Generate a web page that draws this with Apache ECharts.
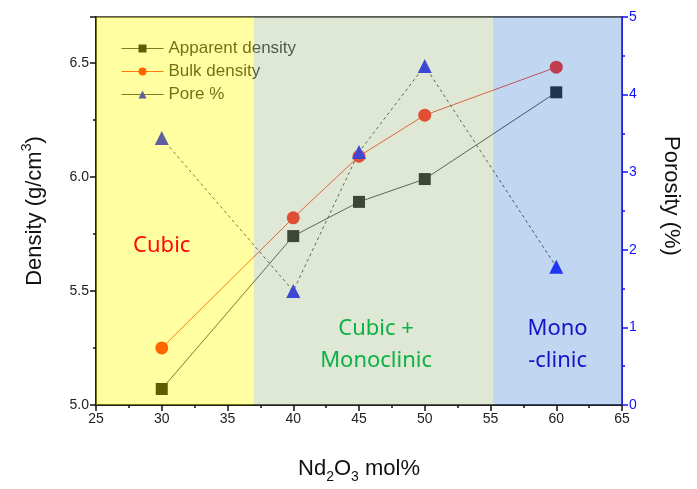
<!DOCTYPE html>
<html><head><meta charset="utf-8">
<script src="https://cdn.jsdelivr.net/npm/echarts@6/dist/echarts.min.js"></script>
<style>html,body{margin:0;padding:0;background:#fff}#c{width:697px;height:489px}</style>
</head><body><div id="c"></div>
<script>
const xValues = [30, 40, 45, 50, 60];
const apparentDensity = [5.07, 5.74, 5.89, 5.99, 6.37];
const bulkDensity = [5.25, 5.82, 6.09, 6.27, 6.48];
const porePercent = [3.44, 1.47, 3.26, 4.37, 1.78];
const phaseBounds = [25, 37, 55.2, 65];
const phaseNames = ['Cubic', 'Cubic +\nMonoclinic', 'Mono\n-clinic'];
const seriesNames = ['Apparent density', 'Bulk density', 'Pore %'];

const pair = (ys) => xValues.map((x, i) => [x, ys[i]]);
const overlayColors = ['rgba(255,255,0,0.37)', 'rgba(165,192,138,0.37)', 'rgba(84,144,217,0.37)'];
const phaseData = phaseBounds.slice(0, -1).map((b, i) => [b, phaseBounds[i + 1], i]);
const annoColors = ['#ff0a0a', '#10b048', '#1414c8'];
const annoPos = [[30, 5.70], [46.3, 5.265], [60.1, 5.265]];

const chart = echarts.init(document.getElementById('c'));
const tickFont = { fontFamily: 'Liberation Sans, Arial', fontSize: 14 };
chart.setOption({
  animation: false,
  grid: { left: 96, right: 75, top: 17, bottom: 84, show: true, borderColor: '#222', borderWidth: 1.5, backgroundColor: 'transparent' },
  legend: {
    data: seriesNames, orient: 'vertical', left: 116, top: 35, itemWidth: 42, itemHeight: 10, itemGap: 6,
    lineStyle: { width: 1, type: 'solid' },
    textStyle: { fontFamily: 'Liberation Sans, Arial', fontSize: 17, color: '#222' }, z: 4
  },
  xAxis: {
    type: 'value', min: 25, max: 65, interval: 5,
    axisLine: { lineStyle: { color: '#111', width: 1.5 } },
    axisTick: { inside: false, length: 6, lineStyle: { color: '#111', width: 1.5 } },
    minorTick: { show: true, splitNumber: 2, length: 3, lineStyle: { color: '#111', width: 1.5 } },
    splitLine: { show: false },
    axisLabel: Object.assign({ color: '#222', margin: 7 }, tickFont),
    name: '{n|Nd}{s|2}{n|O}{s|3}{n| mol%}', nameLocation: 'middle', nameGap: 49,
    nameTextStyle: { rich: {
      n: { fontFamily: 'Liberation Sans, Arial', fontSize: 22, color: '#111', lineHeight: 30, verticalAlign: 'middle' },
      s: { fontFamily: 'Liberation Sans, Arial', fontSize: 14, color: '#111', lineHeight: 12, verticalAlign: 'bottom' }
    } }
  },
  yAxis: [{
    type: 'value', min: 5.0, max: 6.7, interval: 0.5, position: 'left',
    axisLine: { show: true, lineStyle: { color: '#111', width: 1.5 } },
    axisTick: { show: true, inside: false, length: 6, lineStyle: { color: '#111', width: 1.5 } },
    minorTick: { show: true, splitNumber: 2, length: 3, lineStyle: { color: '#111', width: 1.5 } },
    splitLine: { show: false },
    axisLabel: Object.assign({ color: '#222', margin: 7, showMaxLabel: false, formatter: v => v.toFixed(1) }, tickFont),
    name: '{n|Density (g/cm}{s|3}{n|)}', nameLocation: 'middle', nameGap: 46,
    nameTextStyle: { rich: {
      n: { fontFamily: 'Liberation Sans, Arial', fontSize: 22, color: '#111', lineHeight: 30, verticalAlign: 'middle' },
      s: { fontFamily: 'Liberation Sans, Arial', fontSize: 14, color: '#111', lineHeight: 14, verticalAlign: 'top' }
    } }
  }, {
    type: 'value', min: 0, max: 5, interval: 1, position: 'right',
    axisLine: { show: true, lineStyle: { color: '#1010ff', width: 1.5 } },
    axisTick: { show: true, inside: false, length: 6, lineStyle: { color: '#1010ff', width: 1.5 } },
    minorTick: { show: true, splitNumber: 2, length: 3, lineStyle: { color: '#1010ff', width: 1.5 } },
    splitLine: { show: false },
    axisLabel: Object.assign({ color: '#1010ff', margin: 7 }, tickFont),
    name: 'Porosity (%)', nameLocation: 'middle', nameGap: 38, nameRotate: -90,
    nameTextStyle: { fontFamily: 'Liberation Sans, Arial', fontSize: 22, color: '#111', padding: [0, 30, 0, 0] }
  }],
  series: [{
    name: seriesNames[0], type: 'line', yAxisIndex: 0, data: pair(apparentDensity),
    symbol: 'rect', symbolSize: 12, itemStyle: { color: '#000' },
    lineStyle: { color: '#333', width: 1 }, z: 3
  }, {
    name: seriesNames[1], type: 'line', yAxisIndex: 0, data: pair(bulkDensity),
    symbol: 'circle', symbolSize: 13, itemStyle: { color: '#ff0d00' },
    lineStyle: { color: '#ff3010', width: 1 }, z: 3
  }, {
    name: seriesNames[2], type: 'line', yAxisIndex: 1, data: pair(porePercent),
    symbol: 'triangle', symbolSize: 14, itemStyle: { color: '#0000ff' },
    lineStyle: { color: '#333', width: 1, type: [3, 3] }, z: 3
  }, {
    type: 'custom', silent: true, z: 10, data: phaseData, encode: { x: [0, 1] },
    renderItem: (params, api) => {
      const cs = params.coordSys;
      const p0 = api.coord([api.value(0), 5.0]);
      const p1 = api.coord([api.value(1), 5.0]);
      return { type: 'rect', shape: { x: p0[0], y: cs.y, width: p1[0] - p0[0], height: cs.height },
        style: { fill: overlayColors[api.value(2)] } };
    }
  }, {
    type: 'custom', silent: true, z: 30, yAxisIndex: 0,
    data: annoPos.map((p, i) => [p[0], p[1], i]),
    renderItem: (params, api) => {
      const i = api.value(2);
      const pt = api.coord([api.value(0), api.value(1)]);
      return { type: 'text', x: pt[0], y: pt[1], z2: 100,
        style: { text: phaseNames[i], fill: annoColors[i], align: 'center', verticalAlign: 'middle',
          font: '22px "Noto Sans", "Noto Sans CJK KR"', lineHeight: 32 } };
    }
  }]
});
</script></body></html>
